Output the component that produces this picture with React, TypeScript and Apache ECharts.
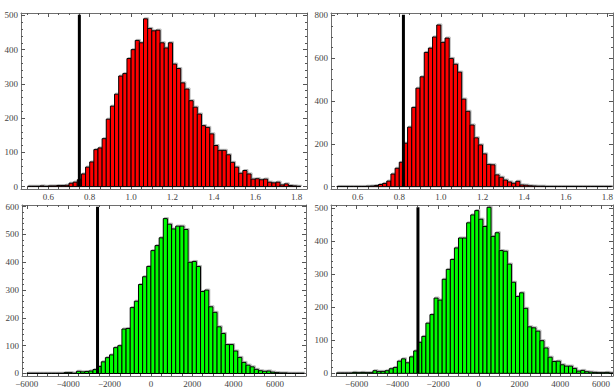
import React, { useEffect, useRef } from "react";
import * as echarts from "echarts";

// ---- data (bin start, bin width, counts) ----
const tlStart = 0.5;
const tlBin = 0.02;
const tlCounts = [
  1, 1, 1, 2, 1, 2, 2, 3, 3, 4, 10, 13, 20, 37, 57, 72, 108, 113, 140, 197,
  235, 270, 323, 330, 374, 400, 427, 420, 490, 462, 455, 457, 420, 405, 420, 358,
  345, 303, 285, 251, 232, 212, 178, 173, 154, 120, 106, 106, 93, 71, 57, 39,
  47, 37, 22, 23, 20, 22, 13, 11, 13, 5, 8, 3, 2, 1,
];

const trStart = 0.5;
const trBin = 0.02;
const trCounts = [
  1, 1, 1, 1, 1, 1, 1, 2, 3, 5, 10, 15, 26, 59, 86, 114, 203, 278, 370, 460,
  513, 627, 647, 699, 755, 674, 694, 599, 572, 535, 409, 352, 288, 228, 195, 153,
  104, 102, 55, 44, 31, 22, 16, 25, 8, 7, 4, 3, 2, 2, 1, 1, 1, 1, 1, 1,
  1, 1, 1, 1, 1, 1, 1, 1, 1, 1,
];

const blStart = -6000;
const blBin = 200;
const blCounts = [
  1, 1, 1, 1, 1, 1, 1, 1, 1, 3, 3, 1, 8, 6, 7, 9, 14, 25, 42, 57,
  67, 93, 100, 160, 162, 237, 260, 320, 348, 385, 442, 460, 488, 557, 537, 520,
  530, 530, 518, 400, 403, 385, 295, 300, 240, 220, 168, 144, 104, 104, 81, 58,
  40, 30, 24, 15, 10, 8, 9, 5, 3, 2, 2, 1, 1, 1, 1,
];

const brStart = -7000;
const brBin = 200;
const brCounts = [
  1, 1, 1, 1, 3, 2, 3, 2, 2, 8, 6, 6, 8, 14, 18, 37, 44, 32, 50, 68,
  94, 112, 152, 178, 228, 222, 285, 315, 345, 380, 410, 410, 456, 480, 493, 467,
  445, 503, 415, 426, 372, 370, 331, 276, 233, 244, 197, 141, 138, 128, 99, 77,
  49, 36, 37, 26, 22, 22, 15, 7, 9, 5, 4, 3, 2, 2, 3, 1,
];

const markerX = [0.75, 0.82, -2580, -2990];
const markerTop = [502, 803, 600, 503];

// ---- tick labels ----
const ratioTicks = [0.6, 0.8, 1.0, 1.2, 1.4, 1.6, 1.8];
const amountTicks = [-6000, -4000, -2000, 0, 2000, 4000, 6000];
const tlYTicks = [0, 100, 200, 300, 400, 500];
const trYTicks = [0, 200, 400, 600, 800];
const blYTicks = [0, 100, 200, 300, 400, 500, 600];
const brYTicks = [0, 100, 200, 300, 400, 500];

const FONT = "Liberation Serif";
const FRAME = "#6e6e6e";
const TICK = "#555";
const LABEL = "#444";

const fmtRatio = (v: number) => v.toFixed(1);
const fmtAmount = (v: number) => (v < 0 ? "\u2212" + Math.abs(v) : String(Math.round(v)));

function steps(lo: number, hi: number, step: number) {
  const out: number[] = [];
  const s = Math.ceil(lo / step - 1e-9);
  const e = Math.floor(hi / step + 1e-9);
  for (let k = s; k <= e; k++) out.push(+(k * step).toFixed(6));
  return out;
}

const panels = [
  {
    counts: tlCounts, start: tlStart, bw: tlBin, color: "#ff0000",
    grid: { left: 21, top: 13, width: 286, height: 176 },
    x: [0.468, 1.85], y: [-7, 507], xTicks: ratioTicks, yTicks: tlYTicks, xMin: 0.05, yMin: 20, xFmt: fmtRatio,
  },
  {
    counts: trCounts, start: trStart, bw: trBin, color: "#ff0000",
    grid: { left: 331, top: 13, width: 282, height: 176 },
    x: [0.472, 1.827], y: [-11, 811], xTicks: ratioTicks, yTicks: trYTicks, xMin: 0.05, yMin: 50, xFmt: fmtRatio,
  },
  {
    counts: blCounts, start: blStart, bw: blBin, color: "#00ff00",
    grid: { left: 22, top: 205, width: 284, height: 175 },
    x: [-6232, 7500], y: [-9, 606], xTicks: amountTicks, yTicks: blYTicks, xMin: 500, yMin: 20, xFmt: fmtAmount,
  },
  {
    counts: brCounts, start: brStart, bw: brBin, color: "#00ff00",
    grid: { left: 331, top: 205, width: 282, height: 175 },
    x: [-7258, 6585], y: [-8, 510], xTicks: amountTicks, yTicks: brYTicks, xMin: 500, yMin: 20, xFmt: fmtAmount,
  },
];

function buildOption() {
  const grids: any[] = [];
  const xAxes: any[] = [];
  const yAxes: any[] = [];
  const series: any[] = [];

  panels.forEach((p, i) => {
    grids.push({ ...p.grid, containLabel: false });
    const bx = { type: "value", gridIndex: i, min: p.x[0], max: p.x[1], splitLine: { show: false } };
    const by = { type: "value", gridIndex: i, min: p.y[0], max: p.y[1], splitLine: { show: false } };
    const frameLine = { show: true, onZero: false, lineStyle: { color: FRAME, width: 1 } };
    const noLine = { show: false, onZero: false };
    const tick = (vals: number[], len: number) => ({
      show: true, inside: true, length: len, customValues: vals, lineStyle: { color: TICK, width: 1 },
    });
    const xMinor = steps(p.x[0], p.x[1], p.xMin);
    const yMinor = steps(p.y[0], p.y[1], p.yMin);
    const lbl = { show: true, fontSize: 9, fontFamily: FONT, color: LABEL, margin: 3 };
    xAxes.push(
      { ...bx, position: "bottom", axisLine: frameLine, axisTick: tick(p.xTicks, 4),
        axisLabel: { ...lbl, customValues: p.xTicks, formatter: p.xFmt } },
      { ...bx, position: "bottom", axisLine: noLine, axisTick: tick(xMinor, 2), axisLabel: { show: false } },
      { ...bx, position: "top", axisLine: frameLine, axisTick: tick(p.xTicks, 4), axisLabel: { show: false } },
      { ...bx, position: "top", axisLine: noLine, axisTick: tick(xMinor, 2), axisLabel: { show: false } },
    );
    yAxes.push(
      { ...by, position: "left", axisLine: frameLine, axisTick: tick(p.yTicks, 4),
        axisLabel: { ...lbl, customValues: p.yTicks } },
      { ...by, position: "left", axisLine: noLine, axisTick: tick(yMinor, 2), axisLabel: { show: false } },
      { ...by, position: "right", axisLine: frameLine, axisTick: tick(p.yTicks, 4), axisLabel: { show: false } },
      { ...by, position: "right", axisLine: noLine, axisTick: tick(yMinor, 2), axisLabel: { show: false } },
    );

    const color = p.color;
    series.push({
      type: "custom",
      xAxisIndex: 4 * i,
      yAxisIndex: 4 * i,
      clip: true,
      data: p.counts.map((c, k) => [p.start + k * p.bw, p.start + (k + 1) * p.bw, c]),
      encode: { x: [0, 1], y: 2 },
      renderItem: (params: any, api: any) => {
        const a = api.coord([api.value(0), api.value(2)]);
        const b = api.coord([api.value(1), 0]);
        const w = b[0] - a[0];
        const h = b[1] - a[1];
        return {
          type: "group",
          children: [
            { type: "rect", shape: { x: a[0] + 1, y: a[1] - 1, width: w, height: h },
              style: { fill: "none", stroke: "#b4b4b4", lineWidth: 1 } },
            { type: "rect", shape: { x: a[0], y: a[1], width: w, height: h },
              style: { fill: color, stroke: "#000", lineWidth: 1 } },
          ],
        };
      },
    });
    series.push({
      type: "line",
      xAxisIndex: 4 * i,
      yAxisIndex: 4 * i,
      data: [[markerX[i], 0], [markerX[i], markerTop[i]]],
      symbol: "none",
      lineStyle: { color: "#000", width: 3 },
      z: 5,
    });
  });

  return {
    animation: false,
    backgroundColor: "#ffffff",
    grid: grids,
    xAxis: xAxes,
    yAxis: yAxes,
    series,
  };
}

export default function App() {
  const ref = useRef<HTMLDivElement>(null);
  useEffect(() => {
    if (!ref.current) return;
    const chart = echarts.init(ref.current, undefined, { renderer: "svg" });
    chart.setOption(buildOption() as any);
    return () => chart.dispose();
  }, []);
  return (
    <div
      ref={ref}
      style={{ position: "absolute", left: 0, top: 0, width: 616, height: 388, background: "#fff" }}
    />
  );
}
